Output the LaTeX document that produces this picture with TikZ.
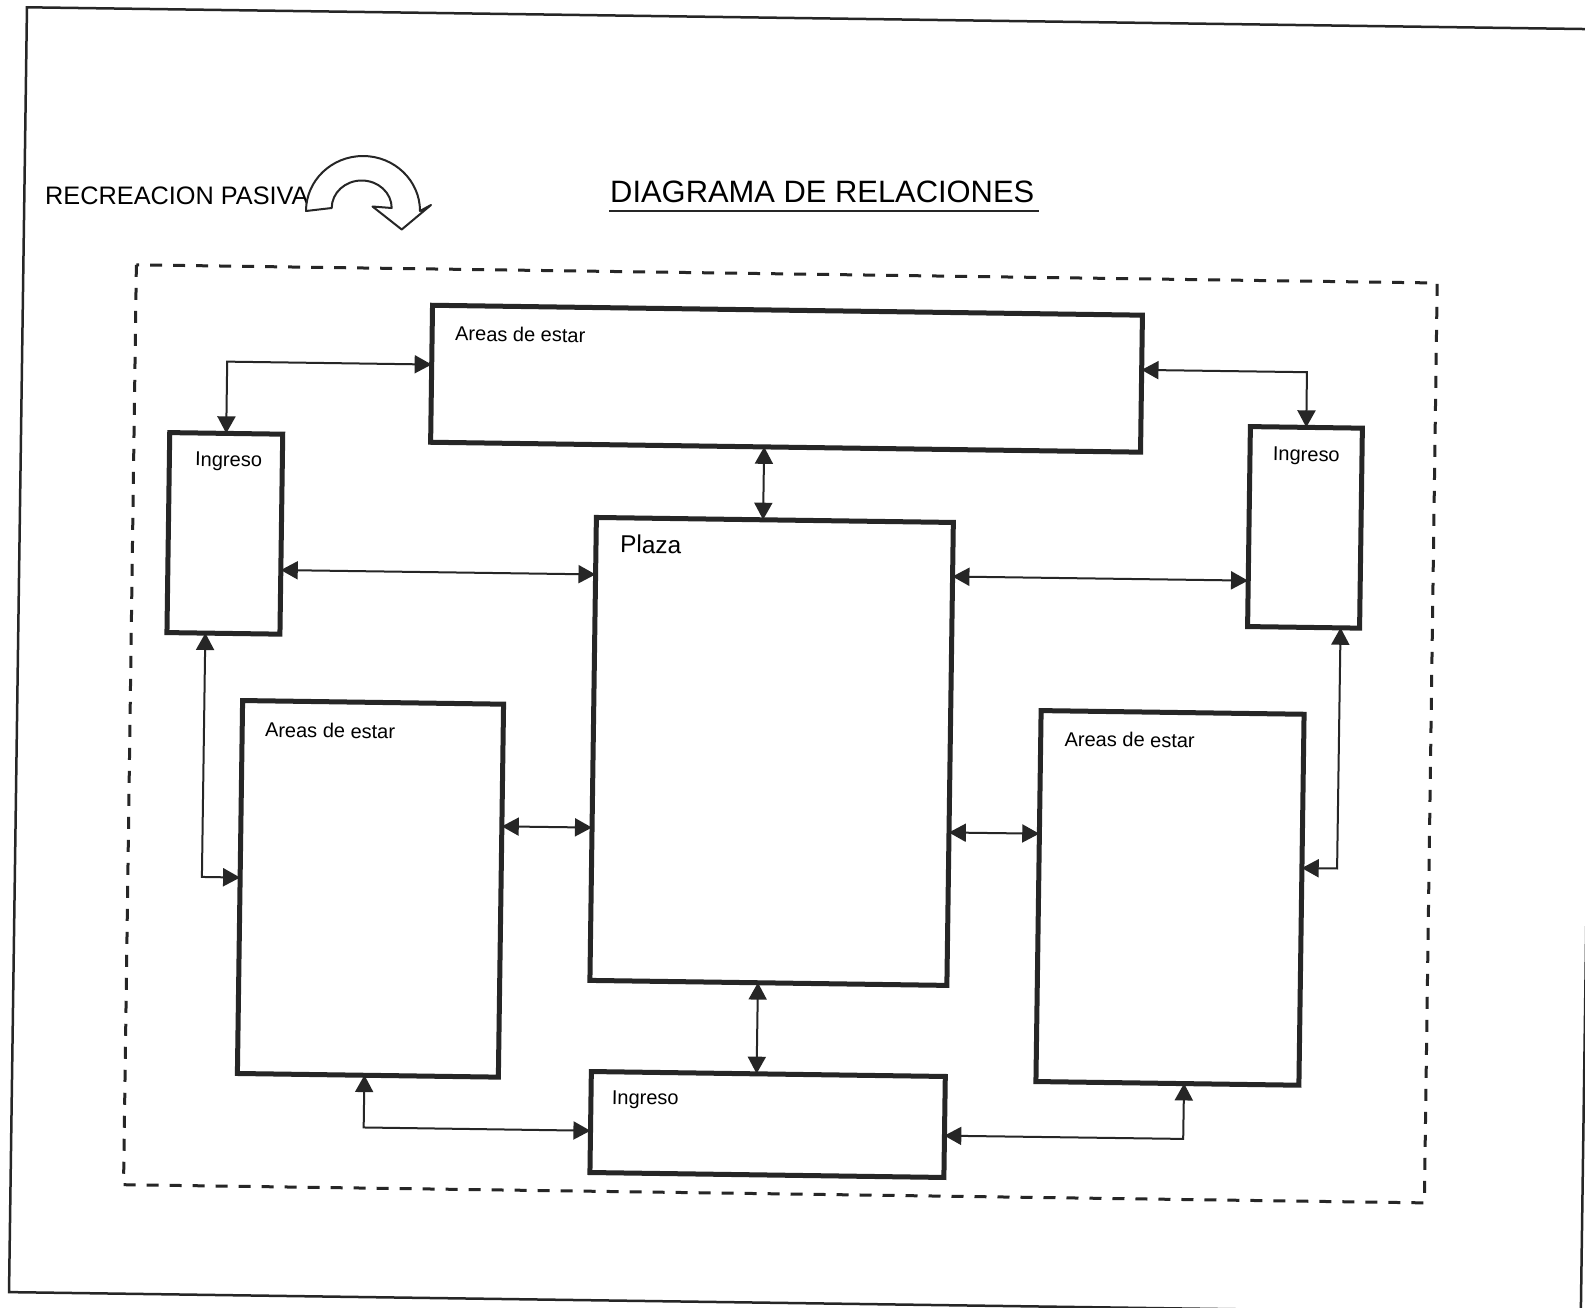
\documentclass[tikz,border=0pt]{standalone}
\usepackage{fontspec}
\setmainfont{Liberation Sans}
\usetikzlibrary{arrows.meta,calc}
\tikzset{
  box/.style={draw=black!85, line width=5pt, anchor=north west, inner sep=0pt, outer sep=0pt, transform shape},
  lbl/.style={anchor=base west, inner sep=0pt, transform shape, font=\fontsize{20}{24}\selectfont},
  conn/.style={line width=2pt, draw=black!85, >={Triangle[length=17pt,width=18pt]}, <->},
  frame/.style={line width=2.5pt, draw=black!85},
  dashbox/.style={line width=3pt, draw=black!85, dash pattern=on 12pt off 11pt},
}
\begin{document}
\begin{tikzpicture}[x=1pt,y=-1pt]
\clip (0,0) rectangle (1585,1307);
\fill[white] (0,0) rectangle (1585,1307);

% heading texts (not skewed)
\node[anchor=base west, inner sep=0pt, font=\fontsize{30.9}{36}\selectfont] (title) at (610,202) {DIAGRAMA DE RELACIONES};
\draw[line width=1.5pt, black!85] ([xshift=-1pt,yshift=-9pt]title.base west) -- ([xshift=4pt,yshift=-9pt]title.base east);
\node[anchor=base west, inner sep=0pt, font=\fontsize{25.3}{29}\selectfont] (rec) at (45,204) {RECREACION PASIVA};
\draw[line width=2pt, black!85, fill=white, line join=round]
  (306,211) arc[start angle=180, end angle=0, x radius=57pt, y radius=55pt]
  -- (431,205) -- (401.7,229.5) -- (372.5,206.5) -- (391.7,208)
  arc[start angle=0, end angle=180, x radius=30pt, y radius=27.5pt] -- cycle;

\begin{scope}[rotate around={-0.8:(792,653)}]
\draw[frame] (18,18) rectangle (1590,1303);
\draw[dashbox] (131,274) rectangle (1432,1194);

\node[box, minimum width=710pt, minimum height=137pt] (topA) at (427.7,310.3) {};
\node[box, minimum width=113pt, minimum height=200pt] (lIng) at (166.7,441.3) {};
\node[box, minimum width=112pt, minimum height=200pt] (rIng) at (1247.2,420.2) {};
\node[box, minimum width=357pt, minimum height=463pt] (plaza) at (594.5,520.2) {};
\node[box, minimum width=261pt, minimum height=373pt] (lA) at (243.3,708.2) {};
\node[box, minimum width=263pt, minimum height=371pt] (rA) at (1041.9,707.1) {};
\node[box, minimum width=354pt, minimum height=101pt] (bIng) at (597.2,1074.3) {};

\node[lbl] (topAl) at (450.6,345.3) {Areas de estar};
\node[lbl] (lIngl) at (192.4,474.3) {Ingreso};
\node[lbl] (rIngl) at (1270,454) {Ingreso};
\node[lbl] (bIngl) at (618,1106.5) {Ingreso};
\node[lbl, font=\fontsize{24.4}{28}\selectfont] (plazal) at (618.6,555.1) {Plaza};
\node[lbl] (lAl) at (266,744.3) {Areas de estar};
\node[lbl] (rAl) at (1065.7,742.2) {Areas de estar};

% a: left Ingreso <-> top Areas
\coordinate (a2) at ($(topA.north west)!0.433!(topA.south west)$);
\coordinate (ac) at ($(lIng.north)!(a2)!(lIng.south)$);
\draw[conn] (lIng.north) -- (ac) -- (a2);
% b: top Areas <-> right Ingreso
\coordinate (b1) at ($(topA.north east)!0.40!(topA.south east)$);
\coordinate (bc) at ($(rIng.north)!(b1)!(rIng.south)$);
\draw[conn] (b1) -- (bc) -- (rIng.north);
% c: top Areas <-> Plaza
\coordinate (c1) at ($(topA.south west)!0.470!(topA.south east)$);
\coordinate (c2) at ($(plaza.north west)!(c1)!(plaza.north east)$);
\draw[conn] (c1) -- (c2);
% d: left Ingreso <-> Plaza
\coordinate (d1) at ($(lIng.north east)!0.68!(lIng.south east)$);
\coordinate (d2) at ($(plaza.north west)!(d1)!(plaza.south west)$);
\draw[conn] (d1) -- (d2);
% e: Plaza <-> right Ingreso
\coordinate (e1) at ($(plaza.north east)!0.117!(plaza.south east)$);
\coordinate (e2) at ($(rIng.north west)!(e1)!(rIng.south west)$);
\draw[conn] (e1) -- (e2);
% f: left Ingreso <-> left Areas
\coordinate (f1) at ($(lIng.south west)!0.34!(lIng.south east)$);
\coordinate (f1t) at ($(lIng.north west)!0.34!(lIng.north east)$);
\coordinate (f2) at ($(lA.north west)!0.475!(lA.south west)$);
\coordinate (fc) at ($(f1)!(f2)!(f1t)$);
\draw[conn] (f1) -- (fc) -- (f2);
% g: right Ingreso <-> right Areas
\coordinate (g1) at ($(rIng.south west)!0.832!(rIng.south east)$);
\coordinate (g1t) at ($(rIng.north west)!0.832!(rIng.north east)$);
\coordinate (g2) at ($(rA.north east)!0.415!(rA.south east)$);
\coordinate (gc) at ($(g1)!(g2)!(g1t)$);
\draw[conn] (g1) -- (gc) -- (g2);
% h: left Areas <-> Plaza
\coordinate (h1) at ($(lA.north east)!0.328!(lA.south east)$);
\coordinate (h2) at ($(plaza.north west)!(h1)!(plaza.south west)$);
\draw[conn] (h1) -- (h2);
% i: Plaza <-> right Areas
\coordinate (i1) at ($(plaza.north east)!0.67!(plaza.south east)$);
\coordinate (i2) at ($(rA.north west)!(i1)!(rA.south west)$);
\draw[conn] (i1) -- (i2);
% j: Plaza <-> bottom Ingreso
\coordinate (j1) at ($(plaza.south west)!0.471!(plaza.south east)$);
\coordinate (j2) at ($(bIng.north west)!(j1)!(bIng.north east)$);
\draw[conn] (j1) -- (j2);
% k: left Areas <-> bottom Ingreso
\coordinate (k1) at ($(lA.south west)!0.487!(lA.south east)$);
\coordinate (k1t) at ($(lA.north west)!0.487!(lA.north east)$);
\coordinate (k2) at ($(bIng.north west)!0.588!(bIng.south west)$);
\coordinate (kc) at ($(k1)!(k2)!(k1t)$);
\draw[conn] (k1) -- (kc) -- (k2);
% l: right Areas <-> bottom Ingreso
\coordinate (l1) at ($(rA.south west)!0.564!(rA.south east)$);
\coordinate (l1t) at ($(rA.north west)!0.564!(rA.north east)$);
\coordinate (l2) at ($(bIng.north east)!0.588!(bIng.south east)$);
\coordinate (lc) at ($(l1)!(l2)!(l1t)$);
\draw[conn] (l1) -- (lc) -- (l2);
\end{scope}
\end{tikzpicture}
\end{document}
